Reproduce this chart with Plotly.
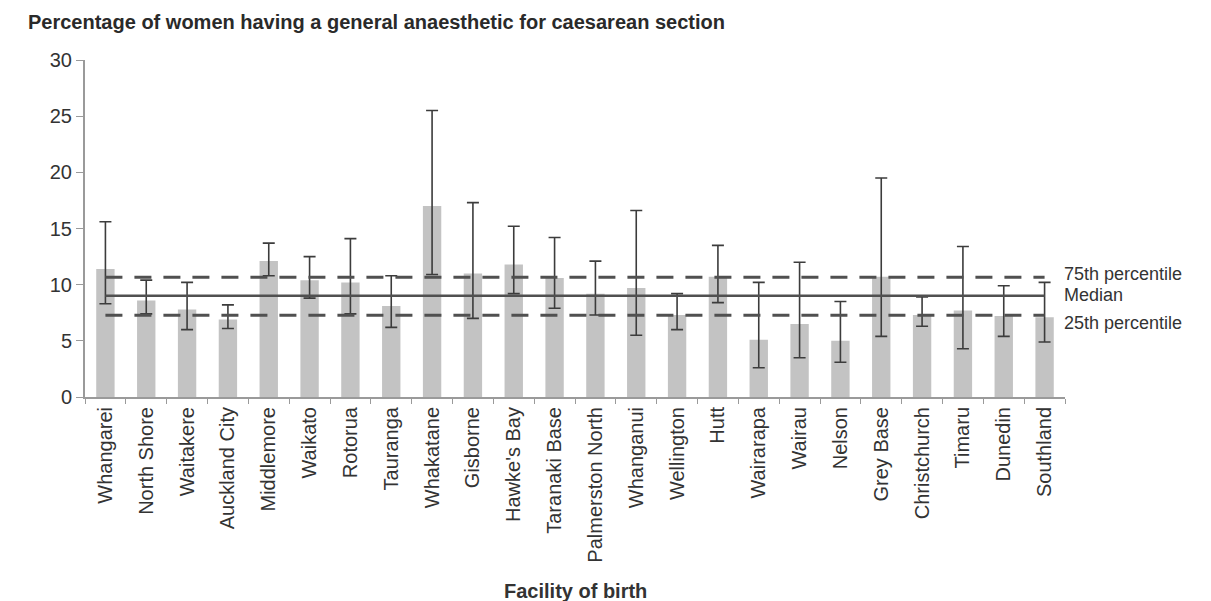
import plotly.graph_objects as go

# Facilities (x categories)
facilities = [
    "Whangarei", "North Shore", "Waitakere", "Auckland City", "Middlemore",
    "Waikato", "Rotorua", "Tauranga", "Whakatane", "Gisborne", "Hawke's Bay",
    "Taranaki Base", "Palmerston North", "Whanganui", "Wellington", "Hutt",
    "Wairarapa", "Wairau", "Nelson", "Grey Base", "Christchurch", "Timaru",
    "Dunedin", "Southland",
]

# Percentage of women having a general anaesthetic for caesarean section
pct = [11.4, 8.6, 7.8, 6.9, 12.1, 10.4, 10.2, 8.1, 17.0, 11.0, 11.8,
       10.6, 9.2, 9.7, 7.3, 10.7, 5.1, 6.5, 5.0, 10.7, 7.3, 7.7, 7.2, 7.1]

# 95% confidence interval bounds
ci_upper = [15.6, 10.4, 10.2, 8.2, 13.7, 12.5, 14.1, 10.8, 25.5, 17.3, 15.2,
            14.2, 12.1, 16.6, 9.2, 13.5, 10.2, 12.0, 8.5, 19.5, 8.9, 13.4, 9.9, 10.2]
ci_lower = [8.3, 7.4, 6.0, 6.1, 10.8, 8.8, 7.4, 6.2, 10.9, 7.0, 9.2,
            7.9, 7.3, 5.5, 6.0, 8.4, 2.6, 3.5, 3.1, 5.4, 6.3, 4.3, 5.4, 4.9]

# Reference lines across all facilities
p75 = 10.66
median = 9.02
p25 = 7.27

y_ticks = [0, 5, 10, 15, 20, 25, 30]

FONT = "Liberation Sans, Arial, sans-serif"
TXT = "#333333"

err_plus = [u - v for u, v in zip(ci_upper, pct)]
err_minus = [v - l for v, l in zip(pct, ci_lower)]

fig = go.Figure()

fig.add_trace(go.Bar(
    x=facilities, y=pct,
    marker=dict(color="#c3c3c3", line=dict(width=0)),
    width=0.45,
    error_y=dict(type="data", symmetric=False, array=err_plus, arrayminus=err_minus,
                 color="#3c3c3c", thickness=1.6, width=6),
    showlegend=False, hoverinfo="x+y",
))

ends = [facilities[0], facilities[-1]]
fig.add_trace(go.Scatter(x=ends, y=[p75, p75], mode="lines",
                         line=dict(color="#505050", width=3, dash="17px,12px"),
                         showlegend=False, hoverinfo="skip"))
fig.add_trace(go.Scatter(x=ends, y=[median, median], mode="lines",
                         line=dict(color="#505050", width=2.5),
                         showlegend=False, hoverinfo="skip"))
fig.add_trace(go.Scatter(x=ends, y=[p25, p25], mode="lines",
                         line=dict(color="#505050", width=3, dash="17px,12px"),
                         showlegend=False, hoverinfo="skip"))

# Line labels on the right; kept just far enough apart not to collide
for text, yv in [("75th percentile", 10.95), ("Median", 9.1), ("25th percentile", 6.6)]:
    fig.add_annotation(xref="paper", x=1.0, xanchor="left", xshift=-3,
                       yref="y", y=yv, yanchor="middle", text=text,
                       showarrow=False, font=dict(family=FONT, size=18, color=TXT))

fig.add_annotation(xref="paper", x=0.5, xanchor="center", yref="paper", y=-0.576,
                   yanchor="middle", text="<b>Facility of birth</b>", showarrow=False,
                   font=dict(family=FONT, size=20, color=TXT))

fig.update_layout(
    width=1211, height=601,
    margin=dict(l=85, r=146, t=60, b=204),
    paper_bgcolor="white", plot_bgcolor="white",
    bargap=0.55,
    title=dict(text="<b>Percentage of women having a general anaesthetic for caesarean section</b>",
               x=28 / 1211, xanchor="left", xref="container",
               y=1 - 22 / 601, yanchor="middle", yref="container",
               font=dict(family=FONT, size=20, color="#2a2a2a")),
    xaxis=dict(type="category", tickangle=-90, tickson="boundaries",
               ticks="outside", ticklen=5, tickcolor="#9a9a9a",
               showline=True, linecolor="#9a9a9a", linewidth=2,
               showgrid=False, zeroline=False,
               tickfont=dict(family=FONT, size=20, color=TXT)),
    yaxis=dict(range=[0, 30], tickvals=y_ticks, ticks="outside", ticklen=7,
               tickcolor="#9a9a9a", showline=True, linecolor="#9a9a9a", linewidth=2,
               showgrid=False, zeroline=False,
               tickfont=dict(family=FONT, size=20, color=TXT)),
)

fig.write_html("out.html")
